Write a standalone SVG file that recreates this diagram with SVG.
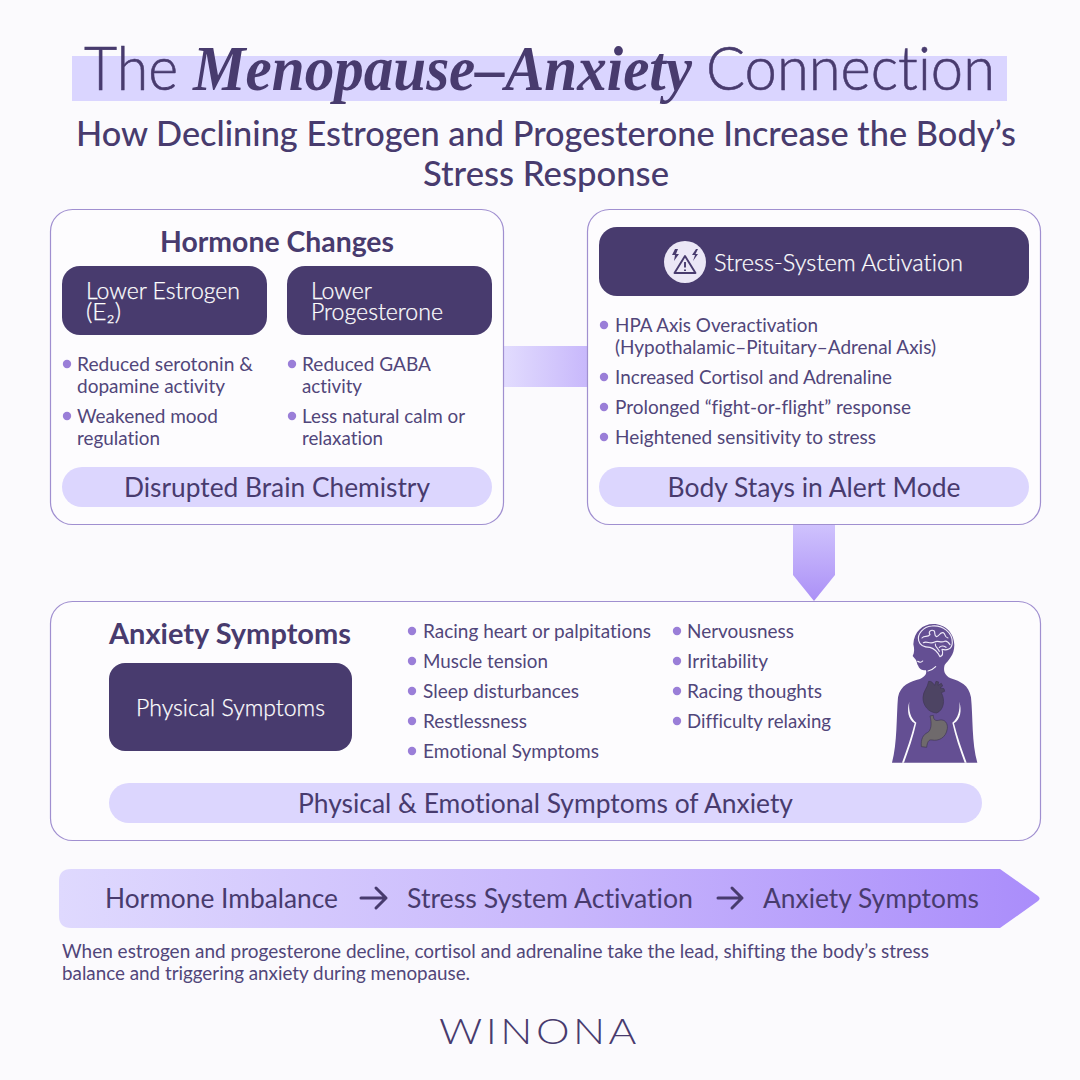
<svg xmlns="http://www.w3.org/2000/svg" width="1080" height="1080" viewBox="0 0 1080 1080">
<style>
text{font-family:"Lato","Noto Sans",sans-serif;fill:#483b6e;font-variant-ligatures:none}
.panel{fill:#fdfcfe;stroke:#a08fd0;stroke-width:1.2}
.dark{fill:#483b6e}
.pill{fill:#dcd6fe}
.dot{fill:#9a7ed8}
.b{font-size:19px;fill:#51467a}
.p{font-size:26px;text-anchor:middle}
.h{font-size:28px;font-weight:700}
.w{fill:#fff;stroke:#fff;stroke-width:.25;font-size:23px;font-weight:300}
.s{font-size:27px}
.c{font-size:18.5px;fill:#51467a}
.t{font-size:62px;font-weight:300;stroke:#483b6e;stroke-width:.6}
.flow{fill:none;stroke:#483b6e;stroke-width:3;stroke-linecap:round;stroke-linejoin:round}
</style>
<defs>
<linearGradient id="gh" x1="0" x2="1" y1="0" y2="0"><stop offset="0" stop-color="#e2dcfe"/><stop offset="1" stop-color="#c8b8fb"/></linearGradient>
<linearGradient id="gv" x1="0" x2="0" y1="0" y2="1"><stop offset="0" stop-color="#cfc2fd"/><stop offset="1" stop-color="#ab90f6"/></linearGradient>
<linearGradient id="gb" x1="0" x2="1" y1="0" y2="0"><stop offset="0" stop-color="#dfd9fe"/><stop offset="0.5" stop-color="#c9b8fc"/><stop offset="1" stop-color="#aa8dfb"/></linearGradient>
</defs>
<rect width="1080" height="1080" fill="#fbfafd"/>
<g id="title">
<rect x="72" y="56" width="935" height="45" fill="#dad5ff"/>
<text class="t" x="84" y="90" textLength="94" lengthAdjust="spacingAndGlyphs">The</text>
<text x="193" y="90" font-size="64" font-style="italic" font-weight="700" style="font-family:'Liberation Serif',serif" textLength="499" lengthAdjust="spacingAndGlyphs">Menopause–Anxiety</text>
<text class="t" x="706" y="90" textLength="289" lengthAdjust="spacingAndGlyphs">Connection</text>
<text x="76" y="146" font-size="35" font-weight="500" textLength="940" lengthAdjust="spacingAndGlyphs">How Declining Estrogen and Progesterone Increase the Body’s</text>
<text x="423" y="186" font-size="35" font-weight="500" textLength="246" lengthAdjust="spacingAndGlyphs">Stress Response</text>
</g>
<g id="connectors">
<rect x="503" y="346" width="84" height="41" fill="url(#gh)"/>
<path d="M793 525H835V575L814 601L793 575Z" fill="url(#gv)"/>
</g>
<g id="hormone-changes">
<rect class="panel" x="50.5" y="209.5" width="453" height="315" rx="22"/>
<text class="h" x="160" y="252" textLength="234" lengthAdjust="spacingAndGlyphs">Hormone Changes</text>
<rect class="dark" x="62" y="266" width="205" height="69" rx="18"/>
<text class="w" x="86" y="299" textLength="154" lengthAdjust="spacingAndGlyphs">Lower Estrogen</text>
<text class="w" x="86" y="320" textLength="35" lengthAdjust="spacingAndGlyphs">(E₂)</text>
<rect class="dark" x="287" y="266" width="205" height="69" rx="18"/>
<text class="w" x="311" y="299" textLength="61" lengthAdjust="spacingAndGlyphs">Lower</text>
<text class="w" x="311" y="320" textLength="132" lengthAdjust="spacingAndGlyphs">Progesterone</text>
<circle class="dot" cx="67" cy="364" r="4.2"/><text class="b" x="77" y="371" textLength="176" lengthAdjust="spacingAndGlyphs">Reduced serotonin &amp;</text>
<text class="b" x="77" y="393" textLength="148" lengthAdjust="spacingAndGlyphs">dopamine activity</text>
<circle class="dot" cx="67" cy="416" r="4.2"/><text class="b" x="77" y="423" textLength="141" lengthAdjust="spacingAndGlyphs">Weakened mood</text>
<text class="b" x="77" y="445" textLength="83" lengthAdjust="spacingAndGlyphs">regulation</text>
<circle class="dot" cx="292" cy="364" r="4.2"/><text class="b" x="302" y="371" textLength="129" lengthAdjust="spacingAndGlyphs">Reduced GABA</text>
<text class="b" x="302" y="393" textLength="60" lengthAdjust="spacingAndGlyphs">activity</text>
<circle class="dot" cx="292" cy="416" r="4.2"/><text class="b" x="302" y="423" textLength="163" lengthAdjust="spacingAndGlyphs">Less natural calm or</text>
<text class="b" x="302" y="445" textLength="81" lengthAdjust="spacingAndGlyphs">relaxation</text>
<rect class="pill" x="62" y="467" width="430" height="40" rx="20"/>
<text class="p" x="277" y="497" textLength="306" lengthAdjust="spacingAndGlyphs">Disrupted Brain Chemistry</text>
</g>
<g id="stress-system">
<rect class="panel" x="587.5" y="209.5" width="453" height="315" rx="22"/>
<rect class="dark" x="599" y="227" width="430" height="69" rx="18"/>
<circle cx="685" cy="262" r="21" fill="#ebe7f6"/>
<path d="M685 256L695.500 273H674.500Z" fill="none" stroke="#483b6e" stroke-width="1.9" stroke-linejoin="round"/>
<path d="M685 262V267.500M685 269.500V271" fill="none" stroke="#483b6e" stroke-width="1.9"/>
<path d="M675 249L672 255L675 255L674 261L679 254L676 254L678 249ZM696 249L692 255L695 255L693 261L698 254L695.500 254L698 249Z" fill="#483b6e"/>
<text class="w" x="714" y="271" style="font-size:24px" textLength="249" lengthAdjust="spacingAndGlyphs">Stress-System Activation</text>
<circle class="dot" cx="604" cy="325" r="4.2"/><text class="b" x="615" y="332" textLength="203" lengthAdjust="spacingAndGlyphs">HPA Axis Overactivation</text>
<text class="b" x="615" y="354" textLength="321" lengthAdjust="spacingAndGlyphs">(Hypothalamic–Pituitary–Adrenal Axis)</text>
<circle class="dot" cx="604" cy="377" r="4.2"/><text class="b" x="615" y="384" textLength="277" lengthAdjust="spacingAndGlyphs">Increased Cortisol and Adrenaline</text>
<circle class="dot" cx="604" cy="407" r="4.2"/><text class="b" x="615" y="414" textLength="296" lengthAdjust="spacingAndGlyphs">Prolonged “fight-or-flight” response</text>
<circle class="dot" cx="604" cy="437" r="4.2"/><text class="b" x="615" y="444" textLength="261" lengthAdjust="spacingAndGlyphs">Heightened sensitivity to stress</text>
<rect class="pill" x="599" y="467" width="430" height="40" rx="20"/>
<text class="p" x="814" y="497" textLength="293" lengthAdjust="spacingAndGlyphs">Body Stays in Alert Mode</text>
</g>
<g id="anxiety-symptoms">
<rect class="panel" x="50.5" y="601.5" width="990" height="239" rx="22"/>
<text class="h" x="109" y="644" textLength="242" lengthAdjust="spacingAndGlyphs">Anxiety Symptoms</text>
<rect class="dark" x="109" y="663" width="243" height="88" rx="16"/>
<text class="w" x="230.5" y="716" text-anchor="middle" textLength="189" lengthAdjust="spacingAndGlyphs">Physical Symptoms</text>
<circle class="dot" cx="412" cy="631" r="4.2"/><text class="b" x="423" y="638" textLength="228" lengthAdjust="spacingAndGlyphs">Racing heart or palpitations</text>
<circle class="dot" cx="412" cy="661" r="4.2"/><text class="b" x="423" y="668" textLength="125" lengthAdjust="spacingAndGlyphs">Muscle tension</text>
<circle class="dot" cx="412" cy="691" r="4.2"/><text class="b" x="423" y="698" textLength="156" lengthAdjust="spacingAndGlyphs">Sleep disturbances</text>
<circle class="dot" cx="412" cy="721" r="4.2"/><text class="b" x="423" y="728" textLength="104" lengthAdjust="spacingAndGlyphs">Restlessness</text>
<circle class="dot" cx="412" cy="751" r="4.2"/><text class="b" x="423" y="758" textLength="176" lengthAdjust="spacingAndGlyphs">Emotional Symptoms</text>
<circle class="dot" cx="677" cy="631" r="4.2"/><text class="b" x="687" y="638" textLength="107" lengthAdjust="spacingAndGlyphs">Nervousness</text>
<circle class="dot" cx="677" cy="661" r="4.2"/><text class="b" x="687" y="668" textLength="81" lengthAdjust="spacingAndGlyphs">Irritability</text>
<circle class="dot" cx="677" cy="691" r="4.2"/><text class="b" x="687" y="698" textLength="135" lengthAdjust="spacingAndGlyphs">Racing thoughts</text>
<circle class="dot" cx="677" cy="721" r="4.2"/><text class="b" x="687" y="728" textLength="144" lengthAdjust="spacingAndGlyphs">Difficulty relaxing</text>
<g id="figure" transform="translate(870 610) scale(.3333)">
<path fill="#644f93" d="M190 42C226 42 253 70 253 105C253 135 236 150 224 165C219 182 224 196 242 205C272 215 296 224 303 262C309 320 305 400 322 458H66C82 400 79 320 84 262C91 225 120 215 150 207C165 200 171 192 168 181C158 182 147 177 145 168C141 164 141 156 138 150L128 138C134 128 133 115 130 103C132 65 158 42 190 42Z"/>
<path fill="none" stroke="#f6f4fb" stroke-width="3.500" stroke-linecap="round" d="M174 183C182 182 190 177 197 170M143 154C148 158 154 158 158 153"/>
<path fill="#fbfafd" d="M118 275C110 300 114 328 134 340C124 380 110 420 96 458H102C116 420 130 380 139 338C122 325 115 300 118 275ZM268 275C276 300 272 328 252 340C262 380 276 420 290 458H284C270 420 256 380 247 338C264 325 271 300 268 275Z"/>
<g fill="none" stroke="#efeaf8" stroke-width="3.4" stroke-linecap="round" stroke-linejoin="round">
<path d="M146 92C141 72 160 50 185 48C218 44 248 68 247 98C246 118 230 122 216 118C220 130 216 138 210 140C204 128 195 116 180 112C163 112 150 108 146 92Z"/>
<path d="M156 84C164 74 172 84 180 74C174 66 182 58 192 62C198 70 190 76 200 80C210 78 208 66 220 68C228 72 222 82 234 84M160 98C172 92 180 104 194 96C204 90 212 100 224 94C230 92 236 98 240 104M208 112C214 106 222 108 228 112M196 102C194 110 204 114 208 124"/>
</g>
<path fill="#4d4463" stroke="#3f3655" stroke-width="2" d="M176 214C186 212 190 222 194 226L198 214L206 216L204 226L214 220L218 228L210 234L222 236L224 244L214 248C226 270 222 300 200 309C175 308 158 285 159 262C160 242 172 236 176 214Z"/>
<path fill="#6f6a6c" stroke="#3f3655" stroke-width="2" d="M180 318L190 316C190 330 196 334 210 330C225 328 234 340 232 356C228 384 205 394 186 390C176 388 172 396 170 412L154 410C152 386 160 374 172 368C184 362 186 340 180 318Z"/>
</g>
<rect class="pill" x="109" y="783" width="873" height="40" rx="20"/>
<text class="p" x="545.500" y="813" textLength="495" lengthAdjust="spacingAndGlyphs">Physical &amp; Emotional Symptoms of Anxiety</text>
</g>
<g id="flow-banner">
<path d="M71 869H1000L1038 896Q1041 898.500 1038 901L1000 928H71Q59 928 59 916V881Q59 869 71 869Z" fill="url(#gb)"/>
<text class="s" x="105" y="908" textLength="233" lengthAdjust="spacingAndGlyphs">Hormone Imbalance</text>
<path class="flow" d="M361 898H386M376 888L386 898L376 908"/>
<text class="s" x="407" y="908" textLength="286" lengthAdjust="spacingAndGlyphs">Stress System Activation</text>
<path class="flow" d="M718 898H742M732 888L742 898L732 908"/>
<text class="s" x="763" y="908" textLength="216" lengthAdjust="spacingAndGlyphs">Anxiety Symptoms</text>
</g>
<g id="caption">
<text class="c" x="62" y="958" textLength="867" lengthAdjust="spacingAndGlyphs">When estrogen and progesterone decline, cortisol and adrenaline take the lead, shifting the body’s stress</text>
<text class="c" x="62" y="980" textLength="408" lengthAdjust="spacingAndGlyphs">balance and triggering anxiety during menopause.</text>
</g>
<g id="logo">
<text x="439" y="1044" font-size="36" font-weight="300" letter-spacing="3" textLength="201" lengthAdjust="spacingAndGlyphs">WINONA</text>
</g>
</svg>
